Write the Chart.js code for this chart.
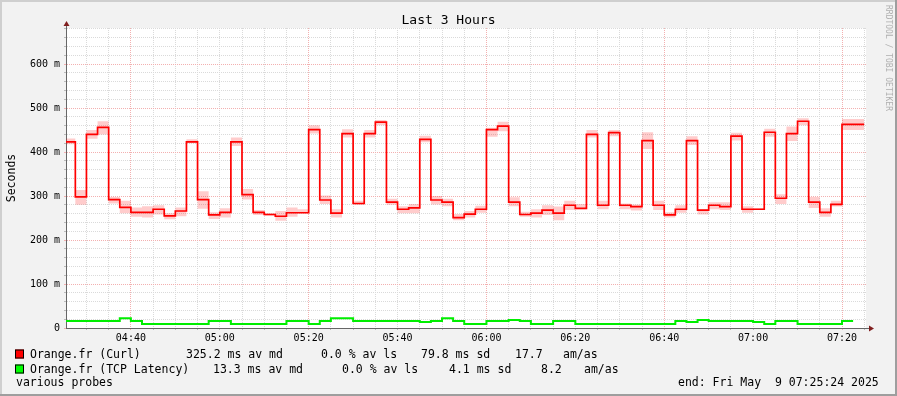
<!DOCTYPE html>
<html>
<head>
<meta charset="utf-8">
<script src="https://cdn.jsdelivr.net/npm/chart.js@4.4.1/dist/chart.umd.min.js"></script>
<style>
  body { margin: 0; background: #f2f2f2; }
  canvas { display: block; }
</style>
</head>
<body>
<canvas id="canvasSmoke" width="897" height="396"></canvas>
<script>
var chartTitle = "Last 3 Hours";
var axisTitle = "Seconds";
var watermark = "RRDTOOL / TOBI OETIKER";

// time is in minutes after midnight
var firstStep = 265;     // 04:25:00, start of first rrd step
var stepMinutes = 2.5;
var viewStart = 265.4;   // 04:25:24
var viewEnd = 445.4;     // 07:25:24
var yMax = 682;

// Orange.fr (Curl), ms : median and smoke band per step
var curlMedian = [423, 298, 440, 456, 292, 274, 263, 263, 270, 255,
                  266, 423, 292, 257, 263, 423, 303, 263, 258, 254,
                  262, 262, 451, 291, 261, 442, 283, 442, 468, 286,
                  270, 273, 429, 291, 286, 251, 259, 270, 451, 459,
                  286, 258, 261, 268, 261, 279, 272, 440, 279, 444,
                  279, 276, 426, 279, 257, 270, 426, 268, 279, 276,
                  436, 270, 270, 445, 295, 442, 470, 286, 263, 281,
                  463, 463];
var curlHigh = [431, 314, 450, 470, 298, 289, 274, 277, 279, 261,
                274, 429, 311, 263, 272, 433, 316, 268, 261, 266,
                274, 270, 461, 301, 270, 452, 289, 450, 473, 294,
                277, 282, 437, 300, 294, 259, 266, 278, 455, 469,
                297, 264, 270, 279, 276, 289, 282, 450, 289, 450,
                283, 281, 445, 289, 263, 279, 436, 270, 286, 286,
                444, 277, 272, 453, 304, 458, 477, 298, 272, 289,
                475, 475];
var curlLow = [418, 280, 430, 440, 283, 261, 253, 251, 258, 247,
               254, 420, 271, 248, 251, 414, 292, 257, 255, 244,
               253, 261, 442, 282, 251, 433, 280, 433, 461, 280,
               261, 261, 422, 281, 277, 245, 251, 262, 435, 447,
               277, 253, 251, 257, 245, 268, 270, 433, 270, 436,
               270, 267, 407, 268, 251, 262, 416, 258, 270, 268,
               426, 262, 268, 435, 282, 425, 461, 273, 253, 276,
               450, 450];

// Orange.fr (TCP Latency), ms
var tcpMedian = [16, 16, 16, 16, 16, 22, 16, 9, 9, 9,
                 9, 9, 9, 16, 16, 9, 9, 9, 9, 9,
                 16, 16, 9, 16, 22, 22, 16, 16, 16, 16,
                 16, 16, 13.6, 16, 22, 16, 9, 9, 16, 16,
                 18, 16, 9, 9, 16, 16, 9, 9, 9, 9,
                 9, 9, 9, 9, 9, 16, 13.6, 18, 16, 16,
                 16, 16, 13.6, 9, 16, 16, 9, 9, 9, 9,
                 16, null];

// legend
var seriesNames = ["Orange.fr (Curl)", "Orange.fr (TCP Latency)"];
var seriesColors = ["#ff0000", "#00ff00"];
var statMedian = ["325.2 ms av md", "13.3 ms av md"];
var statLoss = ["0.0 % av ls", "0.0 % av ls"];
var statSd = ["79.8 ms sd", "4.1 ms sd"];
var statAmAs = ["17.7", "8.2"];
var probeText = "various probes";
var endText = "end: Fri May  9 07:25:24 2025";

var MONO = "'DejaVu Sans Mono', monospace";

// rrd values are stamped at the end of each step
function stepPoints(values)
{
  var pts = [{x: firstStep, y: values[0]}];
  for (var i = 0; i < values.length; i++)
    pts.push({x: firstStep + stepMinutes * (i + 1), y: values[i]});
  return pts;
}

function hhmm(v)
{
  var h = Math.floor(v / 60), m = Math.round(v % 60);
  return (h < 10 ? "0" : "") + h + ":" + (m < 10 ? "0" : "") + m;
}

var smokeDecor = {
  id: "smokeDecor",
  beforeDraw: function(chart) {
    var ctx = chart.ctx, a = chart.chartArea;
    var W = chart.width, H = chart.height;
    ctx.save();
    ctx.fillStyle = "#f2f2f2";
    ctx.fillRect(0, 0, W, H);
    ctx.fillStyle = "#ffffff";
    ctx.fillRect(a.left, a.top, a.right - a.left, a.bottom - a.top);
    // frame shades
    ctx.fillStyle = "#cfcfcf";
    ctx.fillRect(0, 0, W, 2);
    ctx.fillRect(0, 0, 2, H);
    ctx.fillStyle = "#9e9e9e";
    ctx.fillRect(0, H - 2, W, 2);
    ctx.fillRect(W - 2, 0, 2, H);
    ctx.restore();
  },
  afterDraw: function(chart) {
    var ctx = chart.ctx, a = chart.chartArea;
    ctx.save();
    // axis extensions + arrows
    ctx.strokeStyle = "#666";
    ctx.lineWidth = 1;
    ctx.beginPath();
    ctx.moveTo(a.left + 0.5, a.top);
    ctx.lineTo(a.left + 0.5, a.top - 5);
    ctx.moveTo(a.right, a.bottom + 0.5);
    ctx.lineTo(a.right + 4, a.bottom + 0.5);
    ctx.stroke();
    ctx.fillStyle = "rgb(128,31,31)";
    ctx.beginPath();
    ctx.moveTo(a.left - 2.5, a.top - 2);
    ctx.lineTo(a.left + 3.5, a.top - 2);
    ctx.lineTo(a.left + 0.5, a.top - 7);
    ctx.closePath();
    ctx.fill();
    ctx.beginPath();
    ctx.moveTo(a.right + 3, a.bottom - 2.5);
    ctx.lineTo(a.right + 3, a.bottom + 3.5);
    ctx.lineTo(a.right + 8, a.bottom + 0.5);
    ctx.closePath();
    ctx.fill();

    // title
    ctx.fillStyle = "#000";
    ctx.font = "13px " + MONO;
    ctx.textAlign = "center";
    ctx.textBaseline = "alphabetic";
    ctx.fillText(chartTitle, chart.width / 2, 24);

    // vertical axis title
    ctx.save();
    ctx.font = "11.5px " + MONO;
    ctx.translate(15, (a.top + a.bottom) / 2);
    ctx.rotate(-Math.PI / 2);
    ctx.fillText(axisTitle, 0, 0);
    ctx.restore();

    // watermark
    ctx.save();
    ctx.fillStyle = "#b0b0b0";
    ctx.font = "8px " + MONO;
    ctx.textAlign = "left";
    ctx.textBaseline = "middle";
    ctx.translate(888, 5);
    ctx.rotate(Math.PI / 2);
    ctx.fillText(watermark, 0, 0);
    ctx.restore();

    // legend
    ctx.font = "11.5px " + MONO;
    ctx.textAlign = "left";
    var rows = [358, 373];
    var cols = [[186, 321, 421, 515, 563], [213, 342, 449, 541, 584]];
    for (var i = 0; i < seriesNames.length; i++)
    {
      var y = rows[i];
      ctx.fillStyle = seriesColors[i];
      ctx.fillRect(15, y - 8.5, 9, 9);
      ctx.strokeStyle = "#000";
      ctx.strokeRect(15.5, y - 8, 8, 8);
      ctx.fillStyle = "#000";
      ctx.fillText(seriesNames[i], 30, y);
      ctx.fillText(statMedian[i], cols[i][0], y);
      ctx.fillText(statLoss[i], cols[i][1], y);
      ctx.fillText(statSd[i], cols[i][2], y);
      ctx.fillText(statAmAs[i], cols[i][3], y);
      ctx.fillText("am/as", cols[i][4], y);
    }
    ctx.fillText(probeText, 16, 386);
    ctx.fillText(endText, 678, 386);
    ctx.restore();
  }
};

var ctx = document.getElementById("canvasSmoke").getContext("2d");
var minorGrid = "#dadada";
var majorGrid = "#f3b0b0";

new Chart(ctx, {
  type: "line",
  data: {
    datasets: [
      {
        label: seriesNames[0],
        data: stepPoints(curlMedian),
        stepped: "after",
        borderColor: "#ff0000",
        borderWidth: 1.7,
        pointRadius: 0,
        fill: false
      },
      {
        label: seriesNames[1],
        data: stepPoints(tcpMedian),
        stepped: "after",
        borderColor: "#00ee00",
        borderWidth: 2,
        pointRadius: 0,
        fill: false
      },
      {
        label: "smoke high",
        data: stepPoints(curlHigh),
        stepped: "after",
        borderColor: "transparent",
        backgroundColor: "rgba(255,0,0,0.2)",
        pointRadius: 0,
        fill: "+1"
      },
      {
        label: "smoke low",
        data: stepPoints(curlLow),
        stepped: "after",
        borderColor: "transparent",
        pointRadius: 0,
        fill: false
      }
    ]
  },
  options: {
    responsive: false,
    animation: false,
    events: [],
    layout: { padding: { top: 28, right: 31, bottom: 48, left: 0 } },
    plugins: {
      legend: { display: false },
      tooltip: { enabled: false },
      title: { display: false }
    },
    scales: {
      x: {
        type: "linear",
        min: viewStart,
        max: viewEnd,
        afterFit: function(s) { s.height = 20; },
        afterBuildTicks: function(s) {
          var t = [];
          for (var v = 270; v <= 445; v += 5) t.push({value: v});
          s.ticks = t;
        },
        ticks: {
          autoSkip: false,
          maxRotation: 0,
          padding: 2,
          color: "#000",
          font: { family: MONO, size: 10 },
          callback: function(v) { return v % 20 === 0 ? hhmm(v) : ""; }
        },
        grid: {
          color: function(c) { return c.tick && c.tick.value % 40 === 0 ? majorGrid : minorGrid; },
          tickColor: function(c) { return c.tick && c.tick.value % 40 === 0 ? majorGrid : "#bbbbbb"; },
          tickLength: 2,
          tickBorderDash: []
        },
        border: { display: true, color: "#666", width: 1, dash: [1, 1] }
      },
      y: {
        min: 0,
        max: yMax,
        afterFit: function(s) { s.width = 66; },
        afterBuildTicks: function(s) {
          var t = [];
          for (var v = 0; v <= 680; v += 20) t.push({value: v});
          s.ticks = t;
        },
        ticks: {
          autoSkip: false,
          padding: 4,
          color: "#000",
          font: { family: MONO, size: 10 },
          callback: function(v) {
            if (v % 100 !== 0) return "";
            return v === 0 ? "0" : v + " m";
          }
        },
        grid: {
          color: function(c) { return c.tick && c.tick.value % 100 === 0 ? majorGrid : minorGrid; },
          tickColor: function(c) { return c.tick && c.tick.value % 100 === 0 ? majorGrid : "#bbbbbb"; },
          tickLength: 2,
          tickBorderDash: []
        },
        border: { display: true, color: "#666", width: 1, dash: [1, 1] }
      }
    }
  },
  plugins: [smokeDecor]
});
</script>
</body>
</html>
